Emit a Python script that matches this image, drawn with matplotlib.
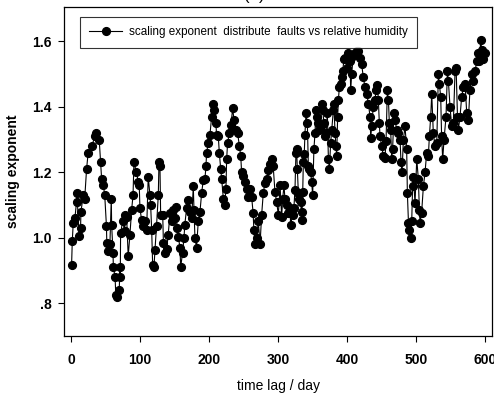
import matplotlib
matplotlib.use("Agg")
import matplotlib.pyplot as plt
from matplotlib.ticker import FixedLocator, FixedFormatter

plt.rcParams['font.family'] = ['Liberation Sans', 'DejaVu Sans']

# time lag (days) and scaling exponent
time_lag = [
    1, 2, 3.4, 5.8, 8.2, 8.7, 12, 14, 14.5, 18, 20, 22.7, 25, 30, 35, 37, 41, 43, 44.5, 47,
    49, 51.5, 52, 54, 56.5, 58.5, 59, 61, 61.5, 64, 65, 67, 70, 71, 71.5, 72, 75, 78, 78.5, 80.7,
    83, 85.5, 88, 90, 91.3, 95, 97.6, 99, 100, 102.4, 105, 107.3, 109.7, 112, 114.5, 115.5, 117, 118.4, 120.3, 121.8,
    124, 126.6, 127.6, 129, 130, 133, 134, 136, 138.7, 141, 143.5, 146, 148.3, 150.7, 152, 154, 155.6, 158, 159, 161.8,
    163.8, 165, 167.6, 170, 172.5, 175, 177.3, 178.3, 179.7, 182, 184.5, 187, 189.4, 191.8, 194.2, 195.6, 196.6, 199, 201.4, 203.9,
    205.3, 207.2, 210, 211, 213.5, 215, 217, 218.4, 220.8, 222.7, 224.6, 225.6, 227, 229.5, 232, 234.3, 236.2, 239, 241.5, 244,
    246, 247.3, 249.7, 252, 254.6, 257, 259.4, 261.8, 264, 265, 266.7, 269, 271.5, 274, 276.3, 278.7, 281, 283.6, 286, 288.4,
    290.8, 293, 295.6, 298, 300.5,
    303, 305.3, 306.8, 308.7, 310, 312.6, 315, 317.4, 318.3, 321.2, 323, 324.6, 326, 327, 328, 329.5, 331, 333, 334.3, 334.8,
    335.8, 336.7, 338, 339, 340.6, 342.5, 344, 345.4, 347.3, 348.8, 350.2, 352, 353.6, 355, 357, 358.4, 359.9, 361.8, 363.3, 364.7,
    366.6, 368, 369.6, 371.5, 373, 374.4, 376.3, 377.8, 380.2, 381, 382.6, 384, 385, 386.4, 387.4, 388.9, 390.8, 392.3, 393.7, 395.6,
    397.6, 399.5, 401.9, 404.3, 405.3, 406.7, 409, 411.6, 414, 416.4, 418.8, 421.2, 423.6, 426, 428.5, 431, 433.3, 434.3, 435.7, 438,
    440.5, 442, 444, 445.4, 446.8, 447.8, 450.2, 452.6, 455, 456.5, 458.4, 460, 461.3, 463.2, 464.7, 466, 468, 469.5, 472, 474.4,
    476.8, 478.2, 479.7, 481.6, 484, 486.4, 487.4, 489, 490.3, 492.2, 493.7, 495, 496, 498.5, 501, 503.3, 504.8, 505.8, 508, 510.6,
    513, 515.4, 517.8, 519.3, 521.2, 522.7, 525, 527.5, 530, 532.3, 533.8, 535.7, 537, 538.6, 540.5, 543.4, 545.4, 546.8, 549.2, 551.6,
    554, 556.5, 558, 560, 561.3, 563.7, 566, 568.5, 571, 573.4, 575.8, 578, 580.7, 583, 585.5, 588, 590.3, 591.7, 593.7, 595,
    597.5, 600,
]
scaling_exponent = [
    0.918, 0.99, 1.046, 1.06, 1.11, 1.137, 1.004, 1.03, 1.08, 1.13, 1.12, 1.21, 1.26, 1.28, 1.31, 1.32, 1.30, 1.23, 1.18, 1.16,
    1.13, 1.035, 0.985, 0.96, 0.98, 1.12, 1.04, 0.954, 0.91, 0.88, 0.826, 0.82, 0.84, 0.91, 0.88, 1.015, 1.05, 1.02, 1.07, 1.065,
    0.943, 1.01, 1.086, 1.13, 1.23, 1.20, 1.17, 1.16, 1.09, 1.055, 1.035, 1.05, 1.025, 1.187, 1.13, 1.10, 1.025, 0.918, 0.91, 0.963,
    1.035, 1.13, 1.23, 1.22, 1.07, 1.07, 0.985, 0.955, 0.965, 1.01, 1.075, 1.05, 1.085, 1.06, 1.095, 1.03, 1.003, 0.97, 0.91, 0.955,
    1.0, 1.04, 1.09, 1.115, 1.08, 1.06, 1.157, 1.085, 1.0, 0.97, 1.05, 1.08, 1.137, 1.177, 1.18, 1.218, 1.26, 1.29, 1.315, 1.37,
    1.41, 1.39, 1.35, 1.315, 1.31, 1.26, 1.21, 1.18, 1.12, 1.10, 1.15, 1.24, 1.29, 1.32, 1.345, 1.397, 1.36, 1.33, 1.32, 1.28,
    1.25, 1.20, 1.19, 1.17, 1.15, 1.125, 1.15, 1.125, 1.075, 1.025, 0.98, 1.0, 1.05, 0.98, 1.07, 1.137, 1.167, 1.18, 1.207, 1.225,
    1.24, 1.22, 1.14, 1.11, 1.07,
    1.16, 1.065, 1.12, 1.16, 1.12, 1.10, 1.075, 1.09, 1.04, 1.07, 1.09, 1.147, 1.26, 1.27, 1.21, 1.137, 1.12, 1.11, 1.055, 1.08,
    1.14, 1.23, 1.255, 1.315, 1.38, 1.35, 1.218, 1.21, 1.20, 1.17, 1.13, 1.27, 1.32, 1.39, 1.37, 1.35, 1.33, 1.34, 1.41, 1.39,
    1.35, 1.31, 1.32, 1.38, 1.24, 1.21, 1.29, 1.33, 1.39, 1.41, 1.32, 1.28, 1.25, 1.37, 1.42, 1.46, 1.47, 1.49, 1.51, 1.545,
    1.55, 1.52, 1.565, 1.54, 1.45, 1.50, 1.555, 1.565, 1.57, 1.57, 1.55, 1.53, 1.49, 1.46, 1.44, 1.41, 1.37, 1.305, 1.34, 1.40,
    1.42, 1.45, 1.467, 1.42, 1.35, 1.31, 1.28, 1.25, 1.245, 1.295, 1.45, 1.42, 1.35, 1.33, 1.24, 1.27, 1.38, 1.36, 1.33, 1.32,
    1.30, 1.23, 1.20, 1.30, 1.34, 1.27, 1.137, 1.046, 1.025, 1.0, 1.05, 1.157, 1.187, 1.107, 1.24, 1.18, 1.086, 1.046, 1.075, 1.157,
    1.20, 1.26, 1.25, 1.31, 1.37, 1.44, 1.32, 1.28, 1.29, 1.50, 1.47, 1.43, 1.31, 1.24, 1.30, 1.37, 1.51, 1.48, 1.40, 1.34,
    1.35, 1.51, 1.52, 1.37, 1.33, 1.37, 1.43, 1.46, 1.47, 1.38, 1.36, 1.45, 1.50, 1.48, 1.51, 1.54, 1.565, 1.54, 1.605, 1.575,
    1.545, 1.565,
]

x_ticks = [0, 100, 200, 300, 400, 500, 600]
y_ticks = [0.8, 1.0, 1.2, 1.4, 1.6]
y_tick_labels = [".8", "1.0", "1.2", "1.4", "1.6"]
series_label = "scaling exponent  distribute  faults vs relative humidity"

fig = plt.figure(figsize=(4.94, 3.93), dpi=100)
ax = fig.add_axes([64 / 494, 1 - 336 / 393, 428 / 494, 329 / 393])

ax.plot(time_lag, scaling_exponent, color="black", linewidth=0.8,
        marker="o", markersize=5.6, markerfacecolor="black",
        markeredgecolor="black", label=series_label)

ax.set_xlim(-10, 610)
ax.set_ylim(0.7, 1.705)

ax.xaxis.set_major_locator(FixedLocator(x_ticks))
ax.yaxis.set_major_locator(FixedLocator(y_ticks))
ax.yaxis.set_major_formatter(FixedFormatter(y_tick_labels))

ax.tick_params(axis="x", direction="out", length=4, width=0.8, pad=8,
               labelsize=10, top=False)
ax.tick_params(axis="y", direction="out", length=4, width=0.8, pad=5,
               labelsize=10, right=False)
for lbl in ax.get_xticklabels() + ax.get_yticklabels():
    lbl.set_fontweight("bold")

for sp in ax.spines.values():
    sp.set_linewidth(0.9)
    sp.set_color("black")

ax.set_xlabel("time lag / day", fontsize=10, labelpad=9)
ax.set_ylabel("scaling exponent", fontsize=10, fontweight="bold", labelpad=9)

leg = ax.legend(loc="upper left", bbox_to_anchor=(16 / 428, 1 - 10 / 329),
                fontsize=8.4, frameon=True, fancybox=False, borderpad=0.8,
                handlelength=2.8, handletextpad=0.6, borderaxespad=0)
leg.get_frame().set_edgecolor("black")
leg.get_frame().set_linewidth(0.8)

fig.text(254 / 494, 1.0, "(a)", fontsize=12, ha="center", va="baseline")

fig.savefig("out.png", dpi=100)
